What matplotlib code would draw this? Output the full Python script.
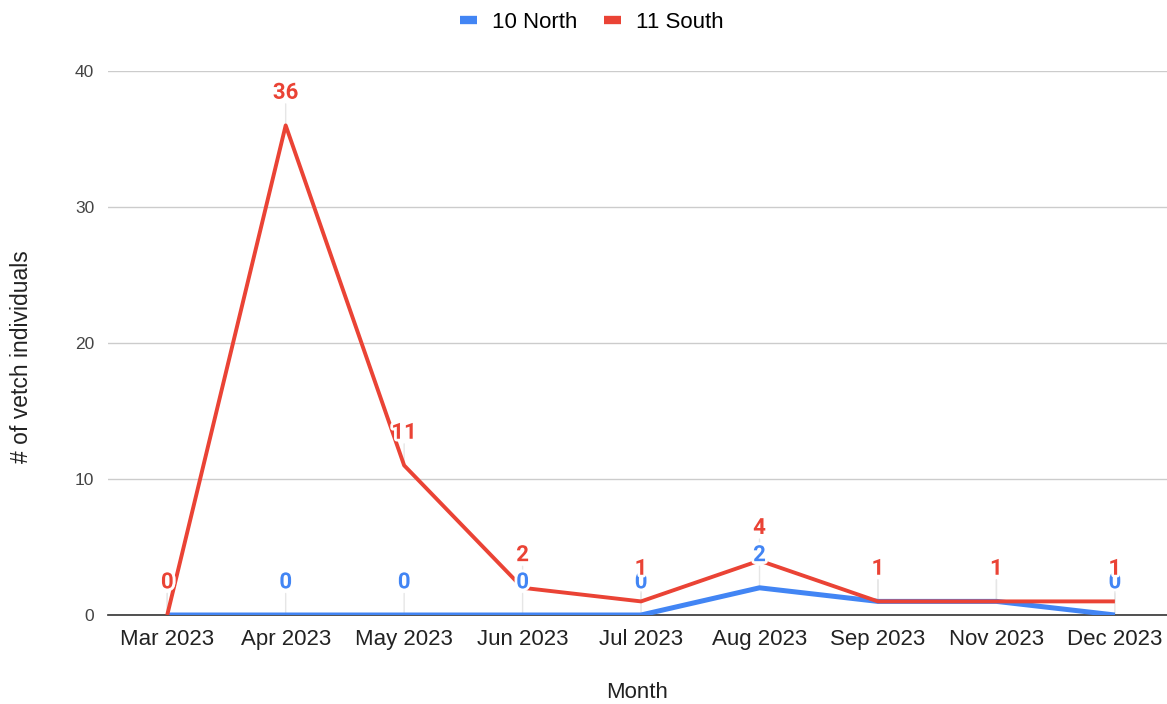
import matplotlib
matplotlib.use("Agg")
import matplotlib.pyplot as plt
import matplotlib.patheffects as pe

months = ["Mar 2023", "Apr 2023", "May 2023", "Jun 2023", "Jul 2023",
          "Aug 2023", "Sep 2023", "Nov 2023", "Dec 2023"]
north = [0, 0, 0, 0, 0, 2, 1, 1, 0]
south = [0, 36, 11, 2, 1, 4, 1, 1, 1]

BLUE = "#4285F4"
RED = "#EA4335"

plt.rcParams['font.family'] = ['Liberation Sans', 'DejaVu Sans']

fig = plt.figure(figsize=(11.67, 7.04), dpi=100)
ax = fig.add_axes([108/1167, 1 - 615/704, 1 - 108/1167, (615 - 71)/704])

x = list(range(len(months)))
ax.plot(x, north, color=BLUE, lw=3.6, solid_capstyle='butt', zorder=3, label="10 North")
ax.plot(x, south, color=RED, lw=2.8, solid_capstyle='butt', zorder=4, label="11 South")

halo = [pe.withStroke(linewidth=4, foreground="white")]
def labels(vals, color, z):
    for xi, v in zip(x, vals):
        ax.annotate(str(v), (xi, v), xytext=(0, 23.5), textcoords="offset points",
                    ha="center", va="center", color=color, fontsize=16,
                    fontweight="bold", family=["Roboto", "DejaVu Sans"],
                    path_effects=halo, zorder=z, annotation_clip=False)
        ax.annotate("", xy=(xi, v), xytext=(0, 15.5), textcoords="offset points",
                    arrowprops=dict(arrowstyle="-", color="#e6e6e6", lw=1,
                                    shrinkA=0, shrinkB=0), zorder=2)

labels(north, BLUE, 5)
labels(south, RED, 6)

ax.set_xlim(-0.5, 8.44)
ax.set_ylim(0, 40)
ax.set_yticks([0, 10, 20, 30, 40])
ax.set_xticks(x)
ax.set_xticklabels(months, fontsize=16, color="#222222")
ax.tick_params(axis='y', labelsize=12.5, colors="#444444", length=0, pad=10)
ax.tick_params(axis='x', length=0, pad=10)
ax.grid(axis='y', color="#cccccc", lw=1)
ax.set_axisbelow(True)
for s in ["top", "right", "left"]:
    ax.spines[s].set_visible(False)
ax.spines["bottom"].set_color("#333333")
ax.spines["bottom"].set_linewidth(1.2)
ax.spines["bottom"].set_zorder(2.5)

ax.set_xlabel("Month", fontsize=16, color="#222222", va="center")
ax.xaxis.set_label_coords((637 - 108) / 1059, -(693 - 615) / 544)
ax.set_ylabel("# of vetch individuals", fontsize=16.5, color="#222222", va="center")
ax.yaxis.set_label_coords((22 - 108) / 1059, (615 - 357) / 544)

leg = fig.legend(loc="center", bbox_to_anchor=(592/1167, 1 - 22/704), ncol=2,
                 frameon=False, fontsize=16, handlelength=0.75, handletextpad=0.7,
                 columnspacing=1.2)
for h in leg.get_lines():
    h.set_linewidth(6)

fig.savefig("out.png", dpi=100)
